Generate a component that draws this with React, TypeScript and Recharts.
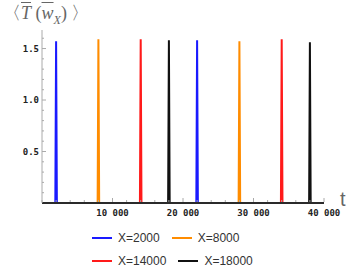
import React from 'react';
import {LineChart, Line, XAxis, YAxis} from 'recharts';

// series + spike readings (two spikes per series, 20000 apart)
const seriesNames = ['X=2000', 'X=8000', 'X=14000', 'X=18000'];
const peakTimes = [
  [2000, 22000],
  [8000, 28000],
  [14000, 34000],
  [18000, 38000],
];
const peakHeights = [
  [1.57, 1.58],
  [1.59, 1.57],
  [1.59, 1.59],
  [1.58, 1.56],
];
const xMajorTicks = [10000, 20000, 30000, 40000];
const xTickLabels = ['10\u2009000', '20\u2009000', '30\u2009000', '40\u2009000'];
const yMajorTicks = [0.5, 1.0, 1.5];
const yTickLabels = ['0.5', '1.0', '1.5'];

const COLORS = ['#1a1aff', '#ff8c00', '#ff1a1a', '#111111'];
const HALF_WIDTH = 110;
const T_MAX = 40000;

const buildSeries = (i: number) => {
  const pts: {t: number; v: number}[] = [{t: 0, v: 0}];
  peakTimes[i].forEach((t, k) => {
    pts.push({t: t - HALF_WIDTH, v: 0});
    pts.push({t, v: peakHeights[i][k]});
    pts.push({t: t + HALF_WIDTH, v: 0});
  });
  pts.push({t: T_MAX, v: 0});
  return pts;
};

const xTicks: number[] = [];
for (let t = 0; t <= 40000; t += 2000) xTicks.push(t);
const yTicks: number[] = [];
for (let k = 0; k <= 16; k++) yTicks.push(Math.round(k * 10) / 100);

const tickFont = {
  fontFamily: '"DejaVu Sans Mono", monospace',
  fontWeight: 'bold' as const,
  fontSize: 9,
  fill: '#222',
};

const XTick = (props: any) => {
  const {x, y, payload} = props;
  const idx = xMajorTicks.indexOf(payload.value);
  const major = idx >= 0;
  const axisY = y - 3;
  return (
    <g>
      <line x1={x} x2={x} y1={axisY - 1} y2={axisY - (major ? 5 : 3)} stroke='#aaa' />
      {major && (
        <text x={x} y={y + 10} textAnchor='middle' style={tickFont}>
          {xTickLabels[idx]}
        </text>
      )}
    </g>
  );
};

const YTick = (props: any) => {
  const {x, y, payload} = props;
  const v = Math.round(payload.value * 100) / 100;
  const idx = yMajorTicks.indexOf(v);
  const major = idx >= 0;
  const axisX = x + 3;
  if (v === 0) return null;
  return (
    <g>
      <line x1={axisX} x2={axisX + (major ? 4 : 2)} y1={y} y2={y} stroke='#aaa' />
      {major && (
        <text x={x} y={y + 3} textAnchor='end' style={tickFont}>
          {yTickLabels[idx]}
        </text>
      )}
    </g>
  );
};

const legendRows = [
  [0, 1],
  [2, 3],
];

export default function App() {
  return (
    <div
      style={{
        position: 'absolute',
        left: 0,
        top: 0,
        width: 349,
        height: 272,
        background: '#fff',
      }}>
      <div
        style={{
          position: 'absolute',
          left: 3,
          top: 1,
          fontFamily: '"Liberation Serif", serif',
          fontSize: 18,
          color: '#666',
          whiteSpace: 'nowrap',
        }}>
        〈<i style={{textDecoration: 'overline'}}>T</i> (
        <i style={{textDecoration: 'overline'}}>w</i>
        <sub style={{fontSize: 12}}>
          <i>X</i>
        </sub>
        ) 〉
      </div>
      <div style={{position: 'absolute', left: 0, top: 0}}>
        <LineChart
          width={349}
          height={220}
          margin={{top: 30, right: 25, bottom: 0, left: 0}}>
          <XAxis
            dataKey='t'
            type='number'
            domain={[0, T_MAX]}
            ticks={xTicks}
            interval={0}
            height={17}
            tickSize={0}
            tickMargin={3}
            axisLine={{stroke: '#2a2a2a', strokeWidth: 2}}
            tick={<XTick />}
          />
          <YAxis
            type='number'
            domain={[0, 1.68]}
            ticks={yTicks}
            interval={0}
            width={42}
            tickSize={0}
            tickMargin={3}
            stroke='#aaa'
            tick={<YTick />}
          />
          {seriesNames.map((name, i) => (
            <Line
              key={name}
              data={buildSeries(i)}
              dataKey='v'
              name={name}
              type='linear'
              stroke={COLORS[i]}
              strokeWidth={2}
              dot={false}
              isAnimationActive={false}
            />
          ))}
        </LineChart>
      </div>
      <div
        style={{
          position: 'absolute',
          left: 340,
          top: 189,
          fontFamily: '"Liberation Sans", sans-serif',
          fontSize: 20,
          lineHeight: '20px',
          color: '#666',
        }}>
        t
      </div>
      <div
        style={{
          position: 'absolute',
          left: 92,
          top: 226,
          fontFamily: '"Liberation Sans", Arial, sans-serif',
          fontSize: 12,
          color: '#333',
        }}>
        {legendRows.map((row, r) => (
          <div
            key={r}
            style={{display: 'flex', alignItems: 'center', height: 23}}>
            {row.map((i) => (
              <div
                key={i}
                style={{display: 'flex', alignItems: 'center', marginRight: 12}}>
                <div
                  style={{
                    width: 20,
                    height: 2,
                    background: COLORS[i],
                    marginRight: 6,
                  }}
                />
                <span>{seriesNames[i]}</span>
              </div>
            ))}
          </div>
        ))}
      </div>
    </div>
  );
}
